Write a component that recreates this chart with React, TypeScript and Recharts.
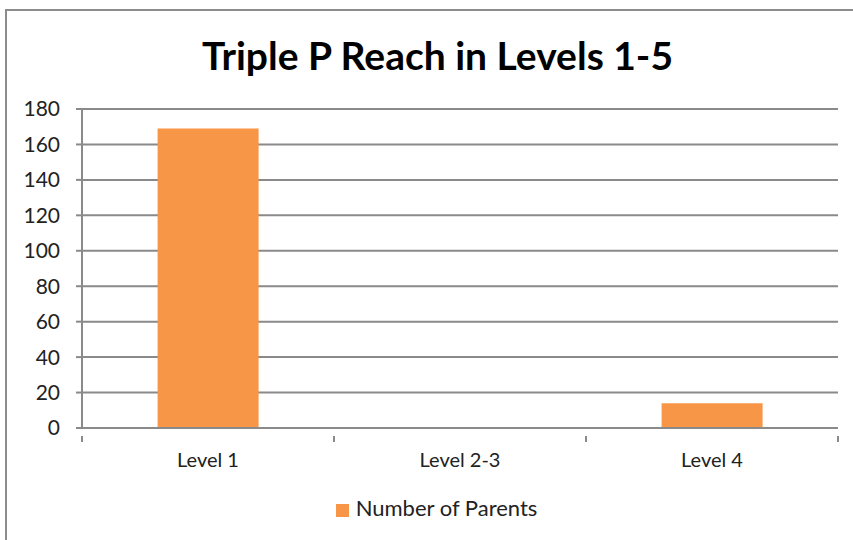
import { BarChart, Bar, XAxis, YAxis, CartesianGrid, Legend } from 'recharts';

const levels = ['Level 1', 'Level 2-3', 'Level 4'];
const parents = [169, 0, 14];
const yTicks = [0, 20, 40, 60, 80, 100, 120, 140, 160, 180];

const data = levels.map((level, i) => ({ level, parents: parents[i] }));

const FONT = 'Lato, "Open Sans", sans-serif';
const GRID = '#8a8a8a';
const W = 853;
const H = 540;
const LEFT = 82;
const RIGHT = 15;
const BAND = (W - LEFT - RIGHT) / levels.length;

// Excel-style category axis: labels centred, tick marks between categories
function CategoryTick(props: any) {
  const { x, y, payload, index } = props;
  const half = BAND / 2;
  return (
    <g>
      <line x1={x - half} x2={x - half} y1={y} y2={y + 6} stroke={GRID} strokeWidth={2} />
      {index === levels.length - 1 && (
        <line x1={x + half} x2={x + half} y1={y} y2={y + 6} stroke={GRID} strokeWidth={2} />
      )}
      <text x={x} y={y + 31} textAnchor="middle" fill="#222" fontSize={20} fontFamily={FONT}>
        {payload.value}
      </text>
    </g>
  );
}

export default function App() {
  return (
    <div style={{ position: 'absolute', left: 0, top: 0, width: W, height: H, overflow: 'hidden', background: '#fff' }}>
      <div
        style={{
          position: 'absolute',
          left: 5,
          top: 9,
          width: W + 20,
          height: H + 20,
          border: '2px solid #8c8c8c',
          boxSizing: 'border-box',
        }}
      />
      <div
        style={{
          position: 'absolute',
          left: 0,
          top: 32,
          width: 875,
          textAlign: 'center',
          fontFamily: FONT,
          fontWeight: 700,
          fontSize: 39,
          color: '#000',
        }}
      >
        Triple P Reach in Levels 1-5
      </div>
      <div style={{ position: 'absolute', left: 0, top: 0 }}>
        <BarChart
          width={W}
          height={H}
          data={data}
          barCategoryGap="30%"
          margin={{ top: 109, right: RIGHT, bottom: 19, left: 0 }}
        >
          <CartesianGrid vertical={false} stroke={GRID} strokeWidth={2} />
          <XAxis
            dataKey="level"
            stroke={GRID}
            strokeWidth={2}
            tickLine={false}
            tick={<CategoryTick />}
            height={66}
            interval={0}
          />
          <YAxis
            width={LEFT}
            domain={[0, 180]}
            ticks={yTicks}
            stroke={GRID}
            strokeWidth={2}
            tickSize={6}
            tickMargin={16}
            tick={{ fill: '#222', fontSize: 21, fontFamily: FONT }}
          />
          <Legend
            verticalAlign="bottom"
            iconType="square"
            iconSize={13}
            wrapperStyle={{ fontFamily: FONT, fontSize: 22, left: 0, width: W, paddingLeft: 30, boxSizing: 'border-box' }}
            formatter={(v: string) => <span style={{ color: '#222', marginLeft: 3 }}>{v}</span>}
          />
          <Bar dataKey="parents" name="Number of Parents" fill="#F79646" isAnimationActive={false} />
        </BarChart>
      </div>
    </div>
  );
}
